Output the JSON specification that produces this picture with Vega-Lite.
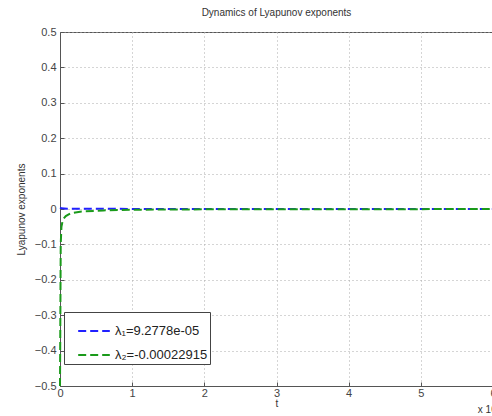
{
  "$schema": "https://vega.github.io/schema/vega-lite/v6.json",
  "width": 433,
  "height": 354,
  "autosize": {"type": "none"},
  "padding": {"left": 60, "top": 32, "right": 0, "bottom": 30},
  "background": "white",
  "title": {"text": "Dynamics of Lyapunov exponents", "font": "Liberation Sans", "fontSize": 10, "fontWeight": "normal", "color": "#333", "offset": 8},
  "config": {
    "view": {"stroke": "#555", "strokeWidth": 1},
    "axis": {
      "labelFont": "Liberation Sans", "labelFontSize": 11, "labelColor": "#444",
      "titleFont": "Liberation Sans", "titleFontSize": 10, "titleFontWeight": "normal", "titleColor": "#333",
      "domainColor": "#555", "tickColor": "#555", "tickSize": -4, "labelPadding": 8,
      "labelOverlap": false, "labelFlush": false,
      "grid": true, "gridColor": "#aaa", "gridDash": [1, 3], "gridWidth": 1
    }
  },
  "datasets": {
    "series": [
      {"t": 0, "v": 0.004, "s": "λ₁=9.2778e-05"},
      {"t": 0.02, "v": 0.002, "s": "λ₁=9.2778e-05"},
      {"t": 0.1, "v": 0.001, "s": "λ₁=9.2778e-05"},
      {"t": 0.5, "v": 0.0005, "s": "λ₁=9.2778e-05"},
      {"t": 1, "v": 0.0003, "s": "λ₁=9.2778e-05"},
      {"t": 3, "v": 0.0001, "s": "λ₁=9.2778e-05"},
      {"t": 6, "v": 0.0001, "s": "λ₁=9.2778e-05"},
      {"t": 0, "v": -0.5, "s": "λ₂=-0.00022915"},
      {"t": 0.005, "v": -0.3, "s": "λ₂=-0.00022915"},
      {"t": 0.01, "v": -0.1, "s": "λ₂=-0.00022915"},
      {"t": 0.02, "v": -0.05, "s": "λ₂=-0.00022915"},
      {"t": 0.04, "v": -0.03, "s": "λ₂=-0.00022915"},
      {"t": 0.08, "v": -0.02, "s": "λ₂=-0.00022915"},
      {"t": 0.15, "v": -0.012, "s": "λ₂=-0.00022915"},
      {"t": 0.3, "v": -0.007, "s": "λ₂=-0.00022915"},
      {"t": 0.6, "v": -0.004, "s": "λ₂=-0.00022915"},
      {"t": 1, "v": -0.002, "s": "λ₂=-0.00022915"},
      {"t": 2, "v": -0.001, "s": "λ₂=-0.00022915"},
      {"t": 4, "v": -0.0005, "s": "λ₂=-0.00022915"},
      {"t": 6, "v": -0.00023, "s": "λ₂=-0.00022915"}
    ],
    "note": [{"t": 6, "v": -0.5, "label": "x 10⁴"}]
  },
  "layer": [
    {
      "data": {"name": "series"},
      "mark": {"type": "line", "strokeWidth": 2, "strokeDash": [8, 4]},
      "encoding": {
        "x": {"field": "t", "type": "quantitative", "scale": {"domain": [0, 6], "nice": false}, "axis": {"values": [0, 1, 2, 3, 4, 5, 6], "tickCount": 7, "format": "~g", "title": "t", "labelPadding": 5, "titlePadding": 0, "labelOverlap": false}},
        "y": {"field": "v", "type": "quantitative", "scale": {"domain": [-0.5, 0.5], "nice": false, "zero": false}, "axis": {"values": [-0.5, -0.4, -0.3, -0.2, -0.1, 0, 0.1, 0.2, 0.3, 0.4, 0.5], "tickCount": 11, "format": "~g", "title": "Lyapunov exponents", "titlePadding": 8, "labelOverlap": false}},
        "color": {
          "field": "s", "type": "nominal",
          "scale": {"domain": ["λ₁=9.2778e-05", "λ₂=-0.00022915"], "range": ["#2020ff", "#1a9a1a"]},
          "legend": {
            "title": null, "orient": "none", "legendX": 4, "legendY": 280,
            "symbolType": "stroke", "symbolStrokeWidth": 2, "symbolDash": [8, 4], "symbolSize": 1000,
            "symbolOffset": 11, "labelOffset": 4,
            "labelFont": "Liberation Sans", "labelFontSize": 13, "labelColor": "#222",
            "strokeColor": "#444", "fillColor": "white", "padding": 2, "rowPadding": -5,
            "labelLimit": 250
          }
        },
        "order": {"field": "t", "type": "quantitative"}
      }
    },
    {
      "data": {"name": "note"},
      "mark": {"type": "text", "align": "right", "baseline": "top", "dy": 19, "dx": 8, "font": "Liberation Sans", "fontSize": 10, "color": "#333"},
      "encoding": {
        "x": {"field": "t", "type": "quantitative"},
        "y": {"field": "v", "type": "quantitative"},
        "text": {"field": "label"}
      }
    }
  ]
}
